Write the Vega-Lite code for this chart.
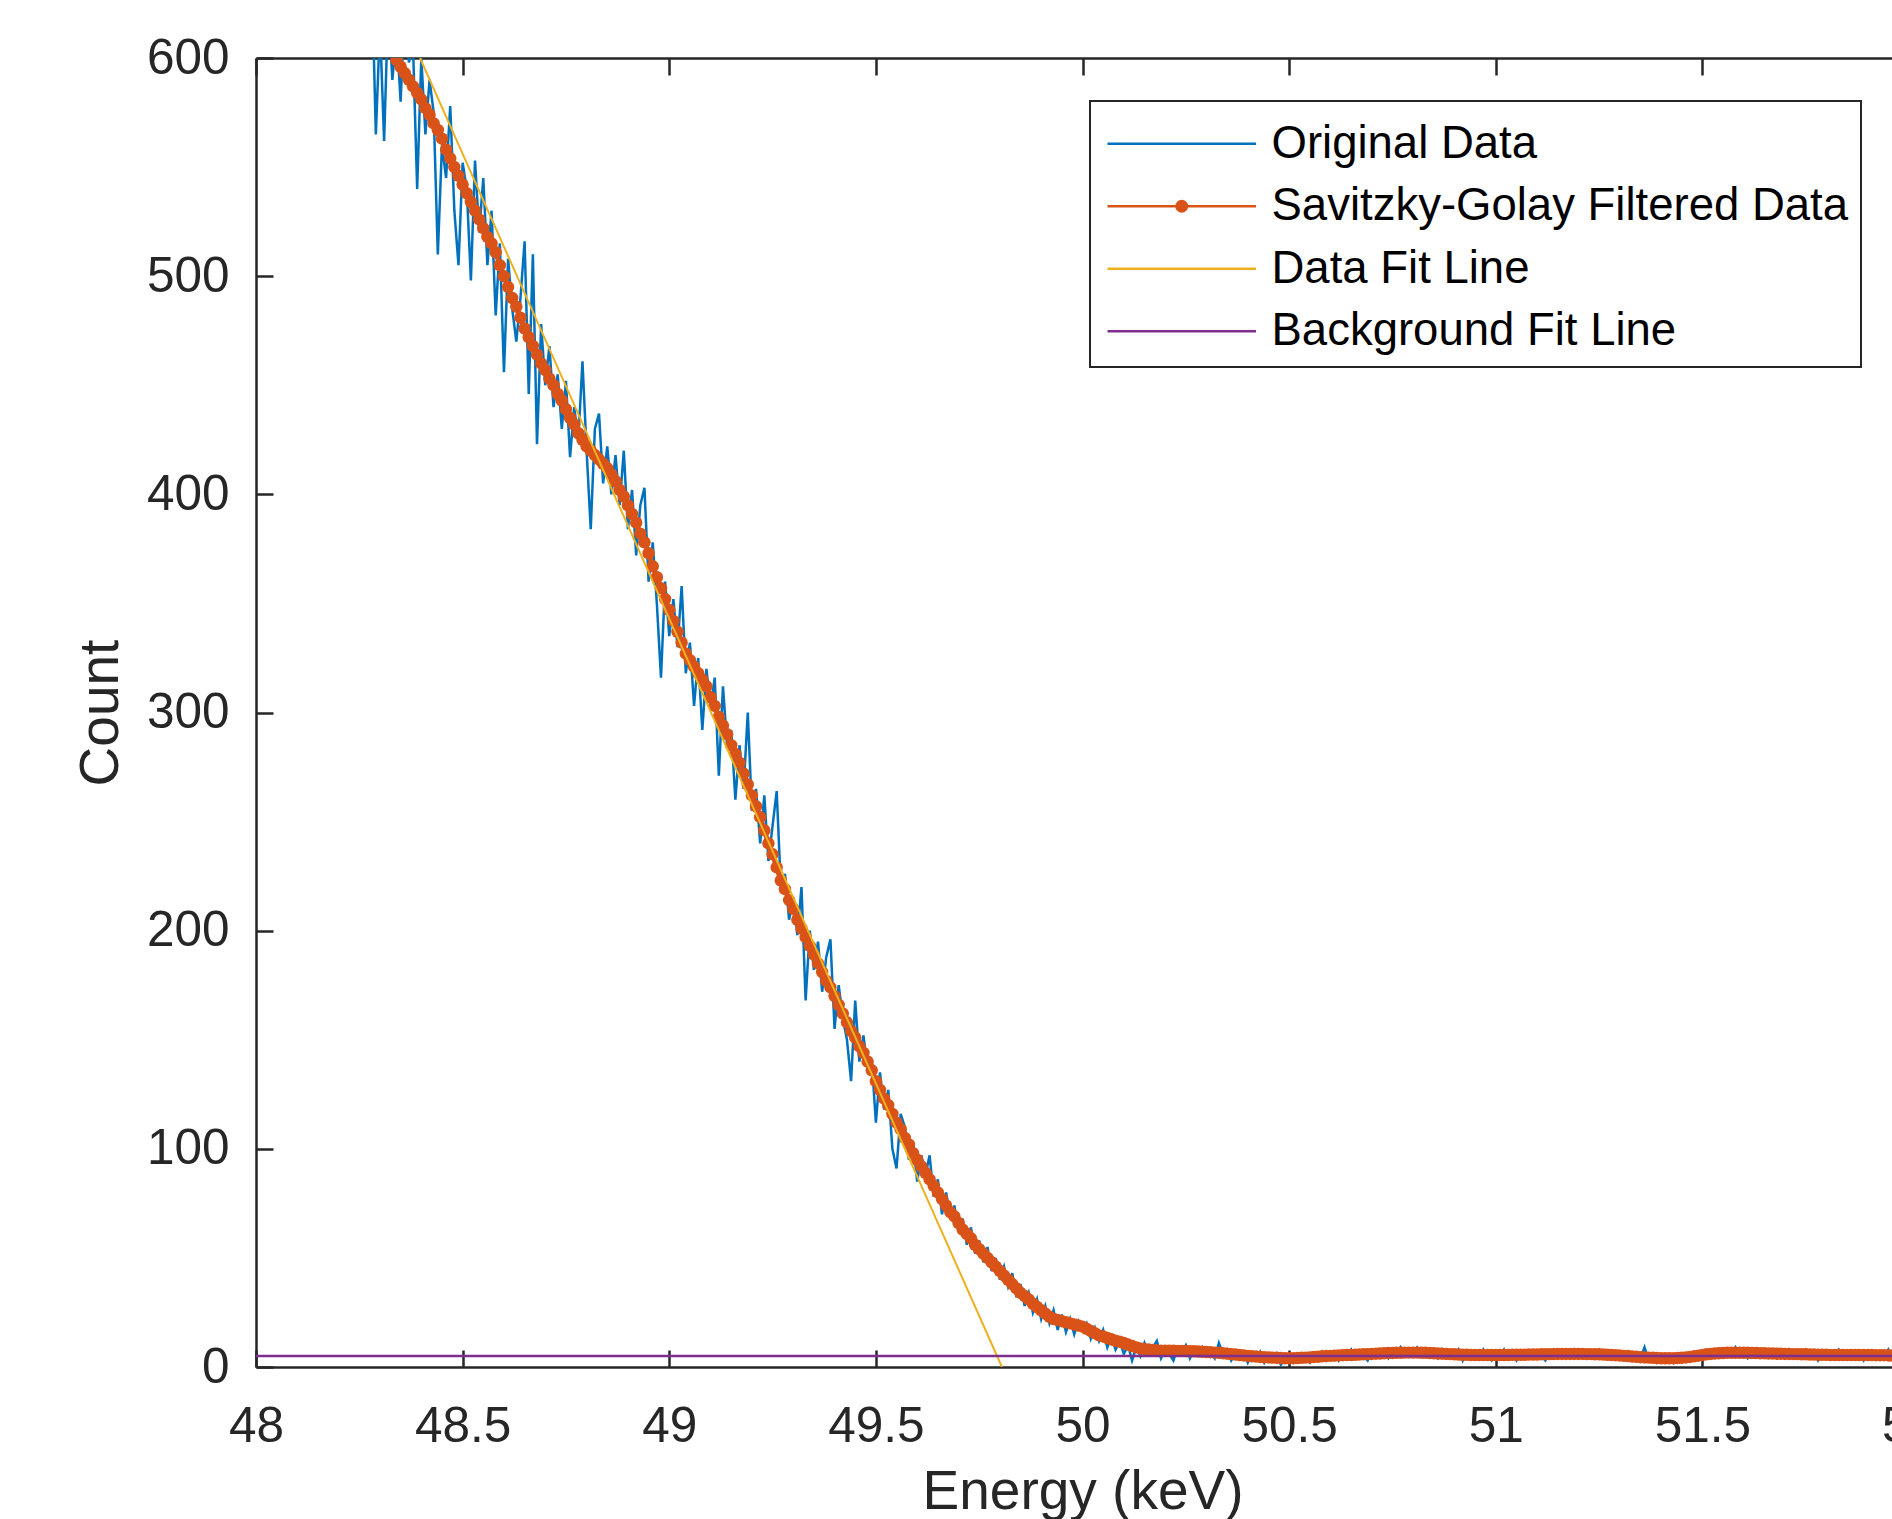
{
"$schema": "https://vega.github.io/schema/vega-lite/v6.json",
"width": 1653, "height": 1309,
"autosize": {"type": "none"},
"padding": {"left": 256, "top": 58, "right": -17, "bottom": 152},
"background": "white",
"config": {
 "view": {"stroke": null},
 "font": "Liberation Sans",
 "axis": {"domainColor": "#262626", "domainWidth": 2.5, "tickColor": "#262626", "tickWidth": 2.5, "tickSize": -17,
  "labelFont": "Liberation Sans", "labelFontSize": 49.5, "labelColor": "#262626",
  "titleFont": "Liberation Sans", "titleFontSize": 55, "titleColor": "#262626", "titleFontWeight": "normal",
  "grid": false, "labelFlush": false, "labelBound": false, "labelOverlap": false},
 "legend": {"strokeWidth": 2}
},
"data": {"values": [
{"e":48.28,"b":640,"s":628},{"e":48.29,"b":565,"s":622},{"e":48.30,"b":615,"s":617},{"e":48.31,"b":562,"s":612},{"e":48.32,"b":625,"s":608},
{"e":48.33,"b":590,"s":603},{"e":48.34,"b":612,"s":599},{"e":48.35,"b":580,"s":596},{"e":48.36,"b":625,"s":593},{"e":48.37,"b":598,"s":590},
{"e":48.38,"b":605,"s":587},{"e":48.39,"b":540,"s":584},{"e":48.40,"b":600,"s":581},{"e":48.41,"b":565,"s":577},{"e":48.42,"b":590,"s":574},
{"e":48.43,"b":575,"s":570},{"e":48.44,"b":510,"s":567},{"e":48.45,"b":560,"s":563},{"e":48.46,"b":545,"s":558},{"e":48.47,"b":578,"s":554},
{"e":48.48,"b":530,"s":550},{"e":48.49,"b":505,"s":546},{"e":48.50,"b":552,"s":542},{"e":48.51,"b":540,"s":538},{"e":48.52,"b":498,"s":534},
{"e":48.53,"b":553,"s":530},{"e":48.54,"b":520,"s":526},{"e":48.55,"b":545,"s":522},{"e":48.56,"b":505,"s":518},{"e":48.57,"b":530,"s":515},
{"e":48.58,"b":482,"s":511},{"e":48.59,"b":515,"s":505},{"e":48.60,"b":456,"s":500},{"e":48.61,"b":508,"s":495},{"e":48.62,"b":485,"s":490},
{"e":48.63,"b":470,"s":486},{"e":48.64,"b":490,"s":481},{"e":48.65,"b":516,"s":476},{"e":48.66,"b":446,"s":472},{"e":48.67,"b":510,"s":468},
{"e":48.68,"b":423,"s":464},{"e":48.69,"b":478,"s":460},{"e":48.70,"b":450,"s":457},{"e":48.71,"b":468,"s":453},{"e":48.72,"b":440,"s":450},
{"e":48.73,"b":455,"s":446},{"e":48.74,"b":430,"s":443},{"e":48.75,"b":452,"s":439},{"e":48.76,"b":417,"s":435},{"e":48.77,"b":440,"s":432},
{"e":48.78,"b":425,"s":428},{"e":48.79,"b":461,"s":425},{"e":48.80,"b":420,"s":422},{"e":48.81,"b":384,"s":420},{"e":48.82,"b":430,"s":418},
{"e":48.83,"b":437,"s":416},{"e":48.84,"b":405,"s":414},{"e":48.85,"b":422,"s":412},{"e":48.86,"b":400,"s":409},{"e":48.87,"b":418,"s":406},
{"e":48.88,"b":395,"s":402},{"e":48.89,"b":420,"s":399},{"e":48.90,"b":384,"s":395},{"e":48.91,"b":402,"s":391},{"e":48.92,"b":372,"s":387},
{"e":48.93,"b":395,"s":382},{"e":48.94,"b":403,"s":378},{"e":48.95,"b":360,"s":373},{"e":48.96,"b":378,"s":367},{"e":48.97,"b":350,"s":362},
{"e":48.98,"b":316,"s":357},{"e":48.99,"b":360,"s":352},{"e":49.00,"b":335,"s":347},{"e":49.01,"b":352,"s":342},{"e":49.02,"b":330,"s":337},
{"e":49.03,"b":358,"s":332},{"e":49.04,"b":318,"s":327},{"e":49.05,"b":332,"s":324},{"e":49.06,"b":303,"s":321},{"e":49.07,"b":325,"s":318},
{"e":49.08,"b":292,"s":315},{"e":49.09,"b":320,"s":312},{"e":49.10,"b":302,"s":307},{"e":49.11,"b":316,"s":303},{"e":49.12,"b":271,"s":298},
{"e":49.13,"b":312,"s":294},{"e":49.14,"b":285,"s":290},{"e":49.15,"b":292,"s":285},{"e":49.16,"b":260,"s":281},{"e":49.17,"b":285,"s":277},
{"e":49.18,"b":265,"s":272},{"e":49.19,"b":300,"s":267},{"e":49.20,"b":255,"s":262},{"e":49.21,"b":265,"s":257},{"e":49.22,"b":240,"s":252},
{"e":49.23,"b":262,"s":246},{"e":49.24,"b":232,"s":240},{"e":49.25,"b":248,"s":235},{"e":49.26,"b":264,"s":229},{"e":49.27,"b":220,"s":223},
{"e":49.28,"b":226,"s":219},{"e":49.29,"b":205,"s":214},{"e":49.30,"b":215,"s":210},{"e":49.31,"b":198,"s":205},{"e":49.32,"b":220,"s":201},
{"e":49.33,"b":168,"s":197},{"e":49.34,"b":200,"s":193},{"e":49.35,"b":182,"s":189},{"e":49.36,"b":195,"s":185},{"e":49.37,"b":172,"s":181},
{"e":49.38,"b":188,"s":177},{"e":49.39,"b":196,"s":174},{"e":49.40,"b":155,"s":170},{"e":49.41,"b":175,"s":166},{"e":49.42,"b":160,"s":162},
{"e":49.43,"b":150,"s":158},{"e":49.44,"b":131,"s":154},{"e":49.45,"b":168,"s":151},{"e":49.46,"b":140,"s":147},{"e":49.47,"b":152,"s":144},
{"e":49.48,"b":136,"s":140},{"e":49.49,"b":141,"s":136},{"e":49.50,"b":112,"s":131},{"e":49.51,"b":135,"s":127},{"e":49.52,"b":118,"s":123},
{"e":49.53,"b":127,"s":120},{"e":49.54,"b":100,"s":116},{"e":49.55,"b":91,"s":112},{"e":49.56,"b":116,"s":109},{"e":49.57,"b":110,"s":105},
{"e":49.58,"b":95,"s":102},{"e":49.59,"b":103,"s":98},{"e":49.60,"b":85,"s":95},{"e":49.61,"b":97,"s":92},{"e":49.62,"b":88,"s":89},
{"e":49.63,"b":97,"s":86},{"e":49.64,"b":78,"s":83},{"e":49.65,"b":86,"s":80},{"e":49.66,"b":70,"s":77},{"e":49.67,"b":80,"s":74},
{"e":49.68,"b":68,"s":71},{"e":49.69,"b":74,"s":69},{"e":49.70,"b":62,"s":66},{"e":49.71,"b":68,"s":63},{"e":49.72,"b":56,"s":61},
{"e":49.73,"b":64,"s":59},{"e":49.74,"b":52,"s":56},{"e":49.75,"b":58,"s":54},{"e":49.76,"b":48,"s":52},{"e":49.77,"b":55,"s":50},
{"e":49.78,"b":44,"s":48},{"e":49.79,"b":50,"s":46},{"e":49.80,"b":40,"s":44},{"e":49.81,"b":46,"s":42},{"e":49.82,"b":37,"s":40},
{"e":49.83,"b":43,"s":38},{"e":49.84,"b":32,"s":36},{"e":49.85,"b":38,"s":34},{"e":49.86,"b":28,"s":32.5},{"e":49.87,"b":34,"s":31},
{"e":49.88,"b":25,"s":29},{"e":49.89,"b":31,"s":27.5},{"e":49.90,"b":22,"s":26},{"e":49.91,"b":28,"s":24.5},{"e":49.92,"b":20,"s":23},
{"e":49.93,"b":26,"s":22},{"e":49.94,"b":17,"s":21.5},{"e":49.95,"b":24,"s":21},{"e":49.96,"b":16,"s":20.5},{"e":49.97,"b":22,"s":20},
{"e":49.98,"b":15,"s":19.5},{"e":49.99,"b":21,"s":19},{"e":50.00,"b":17,"s":18.5},{"e":50.01,"b":20,"s":17.5},{"e":50.02,"b":13,"s":16.5},
{"e":50.03,"b":18,"s":15.5},{"e":50.04,"b":12,"s":14.5},{"e":50.05,"b":17,"s":14},{"e":50.06,"b":9,"s":13.3},{"e":50.07,"b":14,"s":12.7},
{"e":50.08,"b":8,"s":12},{"e":50.09,"b":12,"s":11.6},{"e":50.10,"b":6,"s":11},{"e":50.11,"b":10,"s":10.3},{"e":50.12,"b":3,"s":9.6},
{"e":50.13,"b":9,"s":9},{"e":50.14,"b":5,"s":8.5},{"e":50.15,"b":11,"s":8.2},{"e":50.16,"b":6,"s":8},{"e":50.17,"b":9,"s":7.8},
{"e":50.18,"b":12,"s":7.6},{"e":50.19,"b":4,"s":7.5},{"e":50.20,"b":8,"s":7.5},{"e":50.21,"b":6,"s":7.5},{"e":50.22,"b":3,"s":7.5},
{"e":50.23,"b":9,"s":7.4},{"e":50.24,"b":7,"s":7.4},{"e":50.25,"b":10,"s":7.3},{"e":50.26,"b":4,"s":7.2},{"e":50.27,"b":8,"s":7.2},
{"e":50.28,"b":6,"s":7.1},{"e":50.29,"b":9,"s":7.0},{"e":50.30,"b":5,"s":6.9},{"e":50.31,"b":7,"s":6.8},{"e":50.32,"b":4,"s":6.6},
{"e":50.33,"b":11,"s":6.5},{"e":50.34,"b":6,"s":6.3},{"e":50.35,"b":8,"s":6.1},{"e":50.36,"b":3,"s":5.9},{"e":50.37,"b":6,"s":5.7},
{"e":50.38,"b":5,"s":5.5},{"e":50.39,"b":7,"s":5.3},{"e":50.40,"b":2,"s":5.1},{"e":50.41,"b":6,"s":4.9},{"e":50.42,"b":4,"s":4.8},
{"e":50.43,"b":7,"s":4.6},{"e":50.44,"b":2,"s":4.5},{"e":50.45,"b":5,"s":4.4},{"e":50.46,"b":3,"s":4.3},{"e":50.47,"b":6,"s":4.2},
{"e":50.48,"b":1,"s":4.1},{"e":50.49,"b":4,"s":4.0},{"e":50.50,"b":2,"s":4.0},{"e":50.51,"b":5,"s":4.0},{"e":50.52,"b":3,"s":4.1},
{"e":50.53,"b":6,"s":4.2},{"e":50.54,"b":4,"s":4.3},{"e":50.55,"b":2,"s":4.4},{"e":50.56,"b":6,"s":4.6},{"e":50.57,"b":4,"s":4.7},
{"e":50.58,"b":7,"s":4.9},{"e":50.59,"b":3,"s":5.0},{"e":50.60,"b":5,"s":5.1},{"e":50.61,"b":7,"s":5.2},{"e":50.62,"b":3,"s":5.3},
{"e":50.63,"b":6,"s":5.4},{"e":50.64,"b":5,"s":5.5},{"e":50.65,"b":8,"s":5.5},{"e":50.66,"b":4,"s":5.6},{"e":50.67,"b":7,"s":5.7},
{"e":50.68,"b":5,"s":5.8},{"e":50.69,"b":3,"s":5.9},{"e":50.70,"b":7,"s":6.0},{"e":50.71,"b":5,"s":6.1},{"e":50.72,"b":8,"s":6.2},
{"e":50.73,"b":6,"s":6.3},{"e":50.74,"b":4,"s":6.4},{"e":50.75,"b":8,"s":6.4},{"e":50.76,"b":5,"s":6.5},{"e":50.77,"b":9,"s":6.5},
{"e":50.78,"b":6,"s":6.6},{"e":50.79,"b":8,"s":6.6},{"e":50.80,"b":5,"s":6.6},{"e":50.81,"b":9,"s":6.6},{"e":50.82,"b":7,"s":6.5},
{"e":50.83,"b":5,"s":6.5},{"e":50.84,"b":8,"s":6.4},{"e":50.85,"b":6,"s":6.3},{"e":50.86,"b":4,"s":6.2},{"e":50.87,"b":8,"s":6.1},
{"e":50.88,"b":6,"s":6.0},{"e":50.89,"b":7,"s":5.9},{"e":50.90,"b":5,"s":5.8},{"e":50.91,"b":8,"s":5.7},{"e":50.92,"b":3,"s":5.6},
{"e":50.93,"b":7,"s":5.6},{"e":50.94,"b":5,"s":5.5},{"e":50.95,"b":6,"s":5.5},{"e":50.96,"b":4,"s":5.5},{"e":50.97,"b":8,"s":5.5},
{"e":50.98,"b":5,"s":5.5},{"e":50.99,"b":3,"s":5.5},{"e":51.00,"b":6,"s":5.5},{"e":51.01,"b":5,"s":5.5},{"e":51.02,"b":8,"s":5.5},
{"e":51.03,"b":4,"s":5.5},{"e":51.04,"b":6,"s":5.6},{"e":51.05,"b":3,"s":5.6},{"e":51.06,"b":7,"s":5.6},{"e":51.07,"b":5,"s":5.6},
{"e":51.08,"b":6,"s":5.7},{"e":51.09,"b":4,"s":5.7},{"e":51.10,"b":7,"s":5.7},{"e":51.11,"b":5,"s":5.8},{"e":51.12,"b":3,"s":5.8},
{"e":51.13,"b":6,"s":5.9},{"e":51.14,"b":8,"s":5.9},{"e":51.15,"b":5,"s":6.0},{"e":51.16,"b":7,"s":6.0},{"e":51.17,"b":4,"s":6.0},
{"e":51.18,"b":6,"s":6.0},{"e":51.19,"b":8,"s":6.0},{"e":51.20,"b":5,"s":6.0},{"e":51.21,"b":7,"s":6.0},{"e":51.22,"b":4,"s":5.9},
{"e":51.23,"b":6,"s":5.9},{"e":51.24,"b":5,"s":5.8},{"e":51.25,"b":8,"s":5.8},{"e":51.26,"b":6,"s":5.7},{"e":51.27,"b":4,"s":5.6},
{"e":51.28,"b":6,"s":5.5},{"e":51.29,"b":5,"s":5.4},{"e":51.30,"b":7,"s":5.3},{"e":51.31,"b":4,"s":5.1},{"e":51.32,"b":5,"s":5.0},
{"e":51.33,"b":3,"s":4.8},{"e":51.34,"b":6,"s":4.7},{"e":51.35,"b":4,"s":4.5},{"e":51.36,"b":9,"s":4.4},{"e":51.37,"b":3,"s":4.3},
{"e":51.38,"b":5,"s":4.2},{"e":51.39,"b":2,"s":4.1},{"e":51.40,"b":4,"s":4.0},{"e":51.41,"b":3,"s":4.0},{"e":51.42,"b":5,"s":4.0},
{"e":51.43,"b":2,"s":4.0},{"e":51.44,"b":4,"s":4.1},{"e":51.45,"b":3,"s":4.2},{"e":51.46,"b":5,"s":4.4},{"e":51.47,"b":4,"s":4.6},
{"e":51.48,"b":6,"s":4.9},{"e":51.49,"b":5,"s":5.2},{"e":51.50,"b":7,"s":5.5},{"e":51.51,"b":5,"s":5.8},{"e":51.52,"b":8,"s":6.0},
{"e":51.53,"b":6,"s":6.2},{"e":51.54,"b":7,"s":6.3},{"e":51.55,"b":5,"s":6.4},{"e":51.56,"b":8,"s":6.5},{"e":51.57,"b":6,"s":6.5},
{"e":51.58,"b":9,"s":6.5},{"e":51.59,"b":5,"s":6.5},{"e":51.60,"b":7,"s":6.5},{"e":51.61,"b":4,"s":6.5},{"e":51.62,"b":6,"s":6.4},
{"e":51.63,"b":8,"s":6.4},{"e":51.64,"b":5,"s":6.3},{"e":51.65,"b":7,"s":6.3},{"e":51.66,"b":5,"s":6.2},{"e":51.67,"b":6,"s":6.2},
{"e":51.68,"b":4,"s":6.1},{"e":51.69,"b":7,"s":6.1},{"e":51.70,"b":5,"s":6.0},{"e":51.71,"b":8,"s":6.0},{"e":51.72,"b":6,"s":5.9},
{"e":51.73,"b":4,"s":5.9},{"e":51.74,"b":6,"s":5.8},{"e":51.75,"b":8,"s":5.8},{"e":51.76,"b":5,"s":5.7},{"e":51.77,"b":7,"s":5.7},
{"e":51.78,"b":3,"s":5.6},{"e":51.79,"b":6,"s":5.6},{"e":51.80,"b":4,"s":5.6},{"e":51.81,"b":7,"s":5.5},{"e":51.82,"b":5,"s":5.5},
{"e":51.83,"b":8,"s":5.5},{"e":51.84,"b":6,"s":5.5},{"e":51.85,"b":4,"s":5.5},{"e":51.86,"b":7,"s":5.5},{"e":51.87,"b":5,"s":5.5},
{"e":51.88,"b":6,"s":5.5},{"e":51.89,"b":3,"s":5.5},{"e":51.90,"b":7,"s":5.5},{"e":51.91,"b":5,"s":5.5},{"e":51.92,"b":4,"s":5.4},
{"e":51.93,"b":6,"s":5.4},{"e":51.94,"b":5,"s":5.4},{"e":51.95,"b":8,"s":5.3},{"e":51.96,"b":4,"s":5.3},{"e":51.97,"b":6,"s":5.3},
{"e":51.98,"b":5,"s":5.2},{"e":51.99,"b":7,"s":5.2},{"e":52.00,"b":5,"s":5.2}
]},
"layer": [
 {
  "mark": {"type": "line", "strokeWidth": 2.5, "clip": true},
  "encoding": {
   "x": {"field": "e", "type": "quantitative", "title": "Energy (keV)",
    "scale": {"domain": [48, 52], "nice": false, "zero": false},
    "axis": {"orient": "bottom", "values": [48, 48.5, 49, 49.5, 50, 50.5, 51, 51.5, 52], "format": "~g",
     "labelPadding": 52, "titleY": 141, "titleBaseline": "alphabetic"}},
   "y": {"field": "b", "type": "quantitative", "title": "Count",
    "scale": {"domain": [0, 600], "nice": false, "zero": false},
    "axis": {"values": [0, 100, 200, 300, 400, 500, 600], "labelPadding": 44, "titleX": -139, "titleBaseline": "alphabetic"}},
   "color": {"datum": "Original Data", "type": "nominal",
    "scale": {"domain": ["Original Data", "Savitzky-Golay Filtered Data", "Data Fit Line", "Background Fit Line"],
              "range": ["#0072BD", "#D95319", "#EDB120", "#7E2F8E"]},
    "legend": {"orient": "none", "legendX": 834, "legendY": 43, "direction": "vertical",
     "title": " ", "titleFontSize": 1, "titlePadding": 7,
     "strokeColor": "#262626", "fillColor": "white", "padding": 12,
     "labelFont": "Liberation Sans", "labelFontSize": 45.5, "labelColor": "#000000", "labelLimit": 0,
     "symbolType": "M-5,0H5", "symbolSize": 882, "symbolStrokeWidth": 2.5,
     "symbolOffset": 57, "labelOffset": 67, "rowPadding": 15.5,
     "encode": {"symbols": {"update": {
       "shape": {"signal": "datum.value === 'Savitzky-Golay Filtered Data' ? 'M-5,0H5M-0.35,0A0.35,0.35,0,1,0,0.35,0A0.35,0.35,0,1,0,-0.35,0' : 'M-5,0H5'"},
       "fill": {"scale": "color", "field": "value"},
       "stroke": {"scale": "color", "field": "value"},
       "opacity": {"value": 1}, "strokeWidth": {"value": 2.5}}}}}}
  }
 },
 {
  "mark": {"type": "line", "strokeWidth": 5, "clip": true},
  "encoding": {
   "x": {"field": "e", "type": "quantitative", "title": "Energy (keV)",
    "axis": {"orient": "top", "values": [48, 48.5, 49, 49.5, 50, 50.5, 51, 51.5, 52], "labels": false, "title": null}},
   "y": {"field": "s", "type": "quantitative", "title": "Count"},
   "color": {"datum": "Savitzky-Golay Filtered Data", "type": "nominal"}
  }
 },
 {
  "mark": {"type": "point", "filled": true, "size": 155, "opacity": 1, "clip": true},
  "encoding": {
   "x": {"field": "e", "type": "quantitative", "title": "Energy (keV)", "axis": null},
   "y": {"field": "s", "type": "quantitative", "title": "Count"},
   "color": {"datum": "Savitzky-Golay Filtered Data", "type": "nominal"}
  }
 },
 {
  "data": {"values": [{"e": 48.397, "f": 600}, {"e": 49.805, "f": 0}]},
  "mark": {"type": "line", "strokeWidth": 2, "clip": true},
  "encoding": {
   "x": {"field": "e", "type": "quantitative", "title": "Energy (keV)", "axis": null},
   "y": {"field": "f", "type": "quantitative", "title": "Count"},
   "color": {"datum": "Data Fit Line", "type": "nominal"}
  }
 },
 {
  "data": {"values": [{"e": 48, "g": 5}, {"e": 52, "g": 5}]},
  "mark": {"type": "line", "strokeWidth": 2.5, "clip": true},
  "encoding": {
   "x": {"field": "e", "type": "quantitative", "title": "Energy (keV)", "axis": null},
   "y": {"field": "g", "type": "quantitative", "title": "Count"},
   "color": {"datum": "Background Fit Line", "type": "nominal"}
  }
 }
],
"resolve": {"axis": {"x": "independent"}}
}
